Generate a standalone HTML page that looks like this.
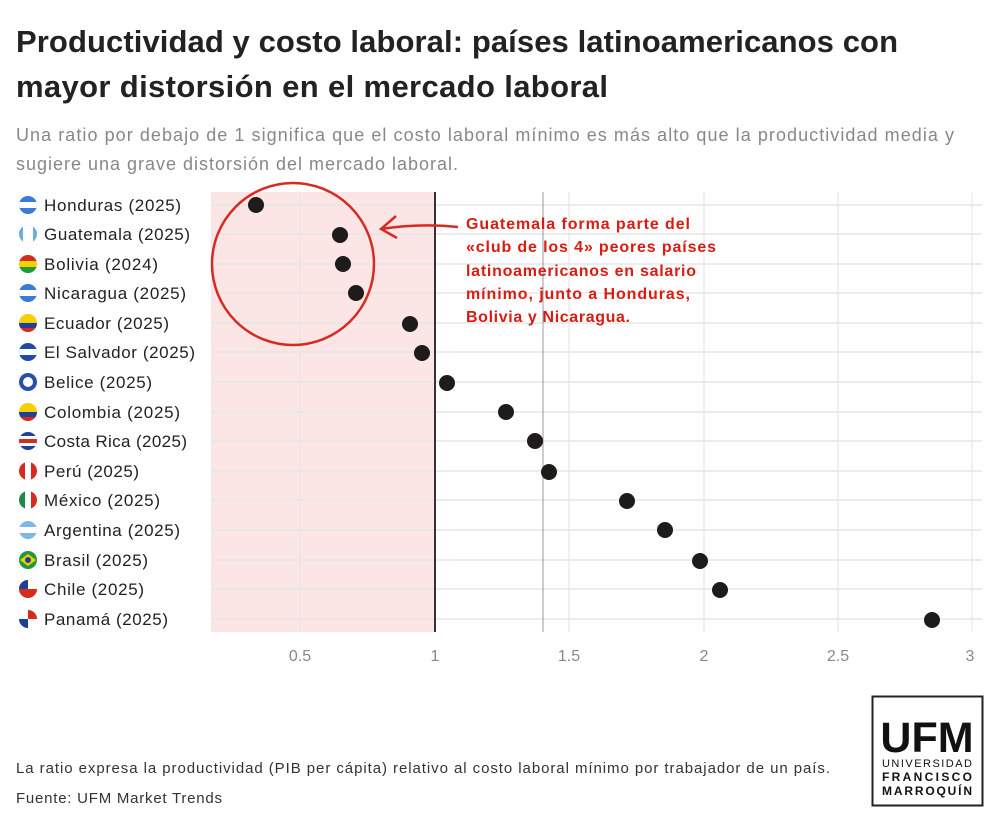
<!DOCTYPE html>
<html><head><meta charset="utf-8"><style>
body{margin:0;background:#fff;width:1000px;height:824px;overflow:hidden;font-family:"Liberation Sans",sans-serif;}
</style></head><body>
<svg width="1000" height="824" xmlns="http://www.w3.org/2000/svg" font-family="Liberation Sans, sans-serif">
<defs>
<clipPath id="c"><circle cx="0" cy="0" r="9"/></clipPath>
</defs>
<text x="16" y="52" font-size="31" font-weight="bold" fill="#222" textLength="882">Productividad y costo laboral: países latinoamericanos con</text>
<text x="16" y="97" font-size="31" font-weight="bold" fill="#222" textLength="592">mayor distorsión en el mercado laboral</text>
<text x="16" y="141" font-size="18" fill="#888" textLength="938">Una ratio por debajo de 1 significa que el costo laboral mínimo es más alto que la productividad media y</text>
<text x="16" y="170" font-size="18" fill="#888" textLength="442">sugiere una grave distorsión del mercado laboral.</text>
<rect x="211" y="192" width="224" height="440" fill="#fbe6e5"/>
<g stroke="#e2e2e2" stroke-width="1">
<line x1="300" y1="192" x2="300" y2="632"/><line x1="569" y1="192" x2="569" y2="632"/><line x1="704" y1="192" x2="704" y2="632"/><line x1="838" y1="192" x2="838" y2="632"/><line x1="972" y1="192" x2="972" y2="632"/>
</g>
<g stroke="#e6e6e6" stroke-width="1.5">
<line x1="211" y1="205" x2="982" y2="205"/><line x1="211" y1="234" x2="982" y2="234"/><line x1="211" y1="264" x2="982" y2="264"/><line x1="211" y1="293" x2="982" y2="293"/><line x1="211" y1="323" x2="982" y2="323"/><line x1="211" y1="352" x2="982" y2="352"/><line x1="211" y1="382" x2="982" y2="382"/><line x1="211" y1="412" x2="982" y2="412"/><line x1="211" y1="441" x2="982" y2="441"/><line x1="211" y1="471" x2="982" y2="471"/><line x1="211" y1="500" x2="982" y2="500"/><line x1="211" y1="530" x2="982" y2="530"/><line x1="211" y1="560" x2="982" y2="560"/><line x1="211" y1="589" x2="982" y2="589"/><line x1="211" y1="619" x2="982" y2="619"/>
</g>
<line x1="543" y1="192" x2="543" y2="632" stroke="#999" stroke-width="1"/>
<line x1="435" y1="192" x2="435" y2="632" stroke="#333" stroke-width="2"/>
<g fill="#1e1b1b">
<circle cx="256" cy="205" r="8"/><circle cx="340" cy="235" r="8"/><circle cx="343" cy="264" r="8"/><circle cx="356" cy="293" r="8"/><circle cx="410" cy="324" r="8"/><circle cx="422" cy="353" r="8"/><circle cx="447" cy="383" r="8"/><circle cx="506" cy="412" r="8"/><circle cx="535" cy="441" r="8"/><circle cx="549" cy="472" r="8"/><circle cx="627" cy="501" r="8"/><circle cx="665" cy="530" r="8"/><circle cx="700" cy="561" r="8"/><circle cx="720" cy="590" r="8"/><circle cx="932" cy="620" r="8"/>
</g>
<circle cx="293" cy="264" r="81" fill="none" stroke="#d62b22" stroke-width="2.5"/>
<path d="M458 227 Q420 223 381 229" fill="none" stroke="#d62b22" stroke-width="2.5"/>
<path d="M396 216 L381 229 L397 238" fill="none" stroke="#d62b22" stroke-width="2.5"/>
<g fill="#d91c12" font-size="16" font-weight="bold">
<text x="466" y="229" textLength="224">Guatemala forma parte del</text>
<text x="466" y="252" textLength="250">«club de los 4» peores países</text>
<text x="466" y="276" textLength="230">latinoamericanos en salario</text>
<text x="466" y="299" textLength="224">mínimo, junto a Honduras,</text>
<text x="466" y="322" textLength="164">Bolivia y Nicaragua.</text>
</g>
<g font-size="17" fill="#222">
<text x="44" y="211" textLength="137">Honduras (2025)</text><text x="44" y="240" textLength="146">Guatemala (2025)</text><text x="44" y="270" textLength="114">Bolivia (2024)</text><text x="44" y="299" textLength="142">Nicaragua (2025)</text><text x="44" y="329" textLength="125">Ecuador (2025)</text><text x="44" y="358" textLength="151">El Salvador (2025)</text><text x="44" y="388" textLength="108">Belice (2025)</text><text x="44" y="418" textLength="136">Colombia (2025)</text><text x="44" y="447" textLength="143">Costa Rica (2025)</text><text x="44" y="477" textLength="95">Perú (2025)</text><text x="44" y="506" textLength="116">México (2025)</text><text x="44" y="536" textLength="136">Argentina (2025)</text><text x="44" y="566" textLength="104">Brasil (2025)</text><text x="44" y="595" textLength="100">Chile (2025)</text><text x="44" y="625" textLength="124">Panamá (2025)</text>
</g>
<g clip-path="url(#c)" transform="translate(28,205)"><rect x="-9" y="-9" width="18" height="18" fill="#3a7bd5"/><rect x="-9" y="-3" width="18" height="6" fill="#fff"/></g>
<g clip-path="url(#c)" transform="translate(28,234)"><rect x="-9" y="-9" width="18" height="18" fill="#6aaee0"/><rect x="-5" y="-9" width="10" height="18" fill="#fff"/></g>
<g clip-path="url(#c)" transform="translate(28,264)"><rect x="-9" y="-9" width="18" height="18" fill="#f4d000"/><rect x="-9" y="-9" width="18" height="6" fill="#d52b1e"/><rect x="-9" y="3" width="18" height="6" fill="#1e9a3a"/></g>
<g clip-path="url(#c)" transform="translate(28,293)"><rect x="-9" y="-9" width="18" height="18" fill="#3a7bd5"/><rect x="-9" y="-3" width="18" height="6" fill="#fff"/></g>
<g clip-path="url(#c)" transform="translate(28,323)"><rect x="-9" y="-9" width="18" height="18" fill="#f4d000"/><rect x="-9" y="0" width="18" height="5" fill="#1f3f99"/><rect x="-9" y="5" width="18" height="5" fill="#d52b1e"/></g>
<g clip-path="url(#c)" transform="translate(28,352)"><rect x="-9" y="-9" width="18" height="18" fill="#1f4aa8"/><rect x="-9" y="-3" width="18" height="6" fill="#fff"/></g>
<g clip-path="url(#c)" transform="translate(28,382)"><rect x="-9" y="-9" width="18" height="18" fill="#2a4fa8"/><circle r="5" fill="#fff"/></g>
<g clip-path="url(#c)" transform="translate(28,412)"><rect x="-9" y="-9" width="18" height="18" fill="#f4d000"/><rect x="-9" y="0" width="18" height="5" fill="#1f3f99"/><rect x="-9" y="5" width="18" height="5" fill="#d52b1e"/></g>
<g clip-path="url(#c)" transform="translate(28,441)"><rect x="-9" y="-9" width="18" height="18" fill="#1f3f99"/><rect x="-9" y="-5" width="18" height="10" fill="#fff"/><rect x="-9" y="-2" width="18" height="4" fill="#d52b1e"/></g>
<g clip-path="url(#c)" transform="translate(28,471)"><rect x="-9" y="-9" width="18" height="18" fill="#d52b1e"/><rect x="-3" y="-9" width="6" height="18" fill="#fff"/></g>
<g clip-path="url(#c)" transform="translate(28,500)"><rect x="-9" y="-9" width="18" height="18" fill="#fff"/><rect x="-9" y="-9" width="6" height="18" fill="#1e8a4a"/><rect x="3" y="-9" width="6" height="18" fill="#d52b1e"/></g>
<g clip-path="url(#c)" transform="translate(28,530)"><rect x="-9" y="-9" width="18" height="18" fill="#7fb8e6"/><rect x="-9" y="-3" width="18" height="6" fill="#fff"/></g>
<g clip-path="url(#c)" transform="translate(28,560)"><rect x="-9" y="-9" width="18" height="18" fill="#1e9a3a"/><path d="M-8 0 L0 -6 L8 0 L0 6Z" fill="#f4d000"/><circle r="3" fill="#1f3f99"/></g>
<g clip-path="url(#c)" transform="translate(28,589)"><rect x="-9" y="-9" width="18" height="18" fill="#d52b1e"/><rect x="-9" y="-9" width="18" height="9" fill="#fff"/><rect x="-9" y="-9" width="9" height="9" fill="#1f3f99"/></g>
<g clip-path="url(#c)" transform="translate(28,619)"><rect x="-9" y="-9" width="18" height="18" fill="#fff"/><rect x="0" y="-9" width="9" height="9" fill="#d52b1e"/><rect x="-9" y="0" width="9" height="9" fill="#1f3f99"/></g>
<g font-size="16" fill="#888" text-anchor="middle">
<text x="300" y="661">0.5</text><text x="435" y="661">1</text><text x="569" y="661">1.5</text><text x="704" y="661">2</text><text x="838" y="661">2.5</text><text x="970" y="661">3</text>
</g>
<text x="16" y="773" font-size="15" fill="#333" textLength="814">La ratio expresa la productividad (PIB per cápita) relativo al costo laboral mínimo por trabajador de un país.</text>
<text x="16" y="803" font-size="15" fill="#333" textLength="206">Fuente: UFM Market Trends</text>
<rect x="872.5" y="696.5" width="110" height="109" fill="#fff" stroke="#222" stroke-width="2"/>
<text x="927" y="752" font-size="43" font-weight="bold" text-anchor="middle" fill="#111">UFM</text>
<text x="927" y="767" font-size="11" text-anchor="middle" fill="#111" textLength="90">UNIVERSIDAD</text>
<text x="927" y="781" font-size="12" font-weight="bold" text-anchor="middle" fill="#111" textLength="90">FRANCISCO</text>
<text x="927" y="795" font-size="12" font-weight="bold" text-anchor="middle" fill="#111" textLength="90">MARROQUÍN</text>
</svg>
</body></html>
